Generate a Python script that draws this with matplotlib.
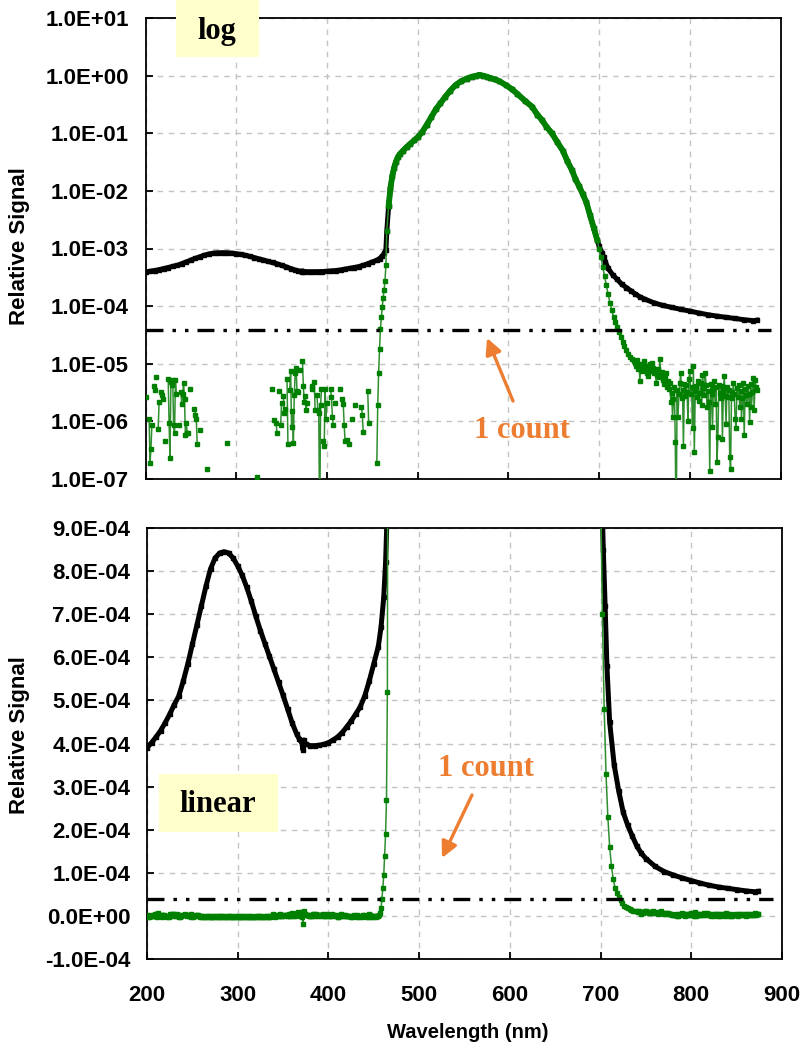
import numpy as np
import matplotlib
matplotlib.use("Agg")
import matplotlib.pyplot as plt
from matplotlib.patches import Rectangle, FancyArrowPatch
from matplotlib.ticker import FixedLocator, NullLocator, FuncFormatter

plt.rcParams['font.family'] = ['Liberation Sans', 'DejaVu Sans']
plt.rcParams['font.weight'] = 'bold'
plt.rcParams['lines.scale_dashes'] = False

# ---------------- data ----------------
# black series (unfiltered), left part, values in 1e-4
black_left_wl = [200, 205, 210, 215, 220, 225, 230, 235, 240, 245, 250, 255, 260, 265, 270, 275,
                 280, 285, 290, 295, 300, 305, 310, 315, 320, 325, 330, 335, 340, 345, 350, 355,
                 360, 365, 368, 371, 372, 373, 375, 380, 385, 390, 395, 400, 405, 410, 415, 420,
                 425, 430, 435, 440, 445, 450, 455, 458, 461, 463, 465]
black_left_val = [3.90, 4.02, 4.15, 4.30, 4.48, 4.68, 4.90, 5.10, 5.45, 5.85, 6.30, 6.75, 7.20, 7.65,
                  8.05, 8.30, 8.42, 8.45, 8.42, 8.30, 8.12, 7.90, 7.62, 7.30, 6.95, 6.62, 6.32, 6.02,
                  5.72, 5.42, 5.12, 4.80, 4.48, 4.22, 4.10, 4.00, 3.85, 4.08, 3.98, 3.95, 3.95, 3.96,
                  3.98, 4.02, 4.08, 4.15, 4.25, 4.38, 4.52, 4.68, 4.85, 5.10, 5.45, 5.85, 6.25, 6.70,
                  7.40, 8.20, 9.50]

# main emission peak, shared by both series (they overlap here)
peak_wl = [466, 468, 470, 472, 474, 476, 478, 480, 484, 488, 492, 496, 500, 505, 510, 515, 520,
           525, 530, 536, 542, 548, 554, 560, 564, 568, 572, 576, 580, 585, 590, 597, 604, 610,
           618, 626, 632, 637, 642, 648, 654, 660, 665, 670, 674, 678, 682, 686, 690, 694, 698]
peak_val = [2.0e-3, 5.5e-3, 1.1e-2, 1.8e-2, 2.5e-2, 3.2e-2, 3.8e-2, 4.3e-2, 5.0e-2, 5.8e-2, 6.6e-2,
            7.5e-2, 8.5e-2, 0.105, 0.14, 0.19, 0.26, 0.33, 0.42, 0.55, 0.69, 0.80, 0.89, 0.96,
            0.99, 1.03, 1.00, 0.96, 0.91, 0.86, 0.80, 0.69, 0.58, 0.48, 0.37, 0.29, 0.21, 0.17,
            0.13, 0.10, 0.07, 0.05, 0.033, 0.023, 0.016, 0.012, 0.0088, 0.0063, 0.0038, 0.0023,
            0.0014]

# black series tail, values in 1e-5
black_tail_wl = [700, 703, 705, 707, 710, 715, 720, 725, 730, 735, 740, 745, 750, 760, 770, 780,
                 790, 800, 810, 820, 830, 840, 850, 860, 870, 874]
black_tail_val = [110, 85, 72, 58, 45, 35, 29, 24, 21, 18.5, 16.2, 14.5, 13.3, 11.5, 10.3, 9.5,
                  8.8, 8.2, 7.6, 7.1, 6.7, 6.4, 6.1, 5.8, 5.6, 5.7]

# green series (filtered): noise floor 200-454 nm, 1 nm step, values in 1e-6
green_low_start = 200
green_low_val = [
    2.6, -1.5, -2.0, -0.8, 1.1, 0.19, 0.33, 0.85, -1.2, 4.1,      # 200-209
    3.5, -2.1, 5.9, -0.6, 0.74, 2.2, -1.8, 3.2, 2.9, 2.4,         # 210-219
    -0.9, 0.46, -2.5, -1.1, -3.0, 5.5, 0.93, 0.23, 4.8, 4.2,      # 220-229
    5.2, 0.87, 0.63, 5.2, 3.0, -1.4, -2.2, 0.85, -0.7, 3.2,       # 230-239
    2.0, 3.0, 4.6, 2.4, 0.59, 0.93, 0.62, 0.62, -1.9, 3.7,        # 240-249
    -0.8, -2.6, -1.3, -0.5, 1.66, 1.3, 1.1, 0.4, -1.7, -0.9,      # 250-259
    0.71, -1.5, -2.4, -0.9, -3.1, -1.8, -0.6, -2.2, 0.15, -1.4,   # 260-269
    -2.8, -0.7, -1.9, -3.3, -1.0, -2.5, -0.8, -1.6, -2.9, -1.2,   # 270-279
    -0.5, -2.0, -3.4, -1.3, -2.6, -0.9, -1.7, -2.3, -3.0, -1.1,   # 280-289
    0.42, -1.8, -2.7, -0.6, -1.5, -3.2, -2.1, -0.8, -1.9, -2.8,   # 290-299
    -1.0, -2.4, -3.5, -1.6, -0.7, -2.2, -1.3, -2.9, -3.1, -0.9,   # 300-309
    -1.8, -2.5, -1.1, -3.0, -2.0, -0.6, -1.4, -2.7, -1.9, -3.3,   # 310-319
    -1.2, -2.3, -0.8, 0.11, -1.7, -2.6, -1.0, -2.1, -3.2, -1.5,   # 320-329
    -0.7, -2.4, -1.3, -2.8, -0.9, -1.6, -2.2, -1.1, -0.5, 3.7,    # 330-339
    -1.0, -1.5, 1.07, -0.8, 0.93, 0.63, -1.2, 3.3, -0.5, 0.85,    # 340-349
    2.1, -0.4, 2.8, 1.4, 1.66, -0.6, 5.5, 0.4, -1.0, 3.5,         # 350-359
    7.4, 0.79, 1.5, 0.42, 2.9, 6.9, 8.5, 3.4, 3.2, -0.8,          # 360-369
    7.9, -2.5, -19.0, 11.2, 4.1, 2.2, 2.8, 1.6, 2.1, -0.6,        # 370-379
    -1.1, -0.4, -0.9, 3.6, 4.1, -1.2, 4.8, 1.56, -0.7, 2.9,       # 380-389
    1.6, 1.4, 0.012, 1.9, 3.6, -0.8, 0.45, 0.38, 3.6, 1.1,        # 390-399
    2.1, -0.5, -1.3, -0.6, 3.6, 2.6, 1.2, 0.85, -0.9, 2.1,        # 400-409
    -1.4, -2.0, -0.8, -0.7, 3.6, -1.1, -0.3, 2.4, 2.0, 0.87,      # 410-419
    0.45, -1.0, 0.48, -0.6, 0.4, -1.5, -2.2, -0.9, 1.1, -0.5,     # 420-429
    -1.3, 1.9, -1.8, -0.7, -2.4, -1.2, -0.6, -1.9, 1.8, 1.3,      # 430-439
    0.65, -1.1, -2.0, -0.8, -1.6, 3.3, 0.93, -1.4, -0.7, -2.1,    # 440-449
    -1.0, -0.5, -1.8, -0.9, -1.2,                                 # 450-454
]

# green rising edge (absolute values)
green_rise_wl = [455, 456, 457, 458, 459, 460, 461, 462, 463, 464, 465]
green_rise_val = [1.9e-7, 1.9e-6, 7.0e-6, 1.8e-5, 4.0e-5, 6.5e-5, 9.5e-5, 1.4e-4, 1.9e-4,
                  2.7e-4, 5.2e-4]

# green falling edge (absolute values)
green_fall_wl = [700, 702, 704, 706, 708, 710, 712, 714, 716, 718, 720, 722, 724, 726, 728, 730,
                 732, 734, 736, 738]
green_fall_val = [1.0e-3, 7.0e-4, 4.8e-4, 3.3e-4, 2.3e-4, 1.6e-4, 1.15e-4, 8.5e-5, 6.5e-5,
                  5.2e-5, 4.4e-5, 3.6e-5, 2.9e-5, 2.4e-5, 2.0e-5, 1.75e-5, 1.5e-5, 1.3e-5,
                  1.2e-5, 1.1e-5]

# green red-side noise floor 740-874 nm, 1 nm step, values in 1e-6
green_high_start = 740
green_high_val = [
    10.5, 9.0, 11.5, 8.0, 9.5, 5.0, 10.0, 7.4, 8.8, 11.0,         # 740-749
    10.4, 8.0, 9.2, 7.0, 6.1, 8.5, 9.8, 7.5, 10.5, 8.5,           # 750-759
    6.8, 8.0, 7.2, 4.6, 6.5, 8.0, 5.8, 12.0, 6.5, 7.2,            # 760-769
    5.2, 5.7, 4.5, 6.2, 6.9, 4.0, 5.0, 3.6, 4.6, 2.2,             # 770-779
    3.1, 1.2, 2.4, 4.0, 0.43, 0.01, 3.5, 1.2, 3.0, 4.6,           # 780-789
    6.9, 2.5, 3.5, 0.38, 4.4, 2.8, 4.3, 3.2, 1.0, 5.5,            # 790-799
    7.4, 3.0, 4.0, 0.76, 9.0, 0.29, 3.3, 4.1, 2.6, 5.0,           # 800-809
    2.3, 3.1, 4.7, 1.9, 6.5, 3.8, 2.9, 6.9, 4.2, 1.8,             # 810-819
    3.4, 2.2, 0.14, 4.5, 3.0, 0.8, 3.6, 5.0, 2.0, 3.9,            # 820-829
    0.2, 0.54, 4.3, 3.1, 2.5, 4.1, 0.5, 3.4, 6.1, 2.8,            # 830-839
    0.9, 4.0, 2.7, 3.5, 0.24, 0.15, 3.2, 2.5, 4.6, 3.0,           # 840-849
    1.1, 0.76, 3.8, 2.7, 4.2, 1.8, 3.3, 1.1, 2.5, 4.6,            # 850-859
    0.57, 3.7, 2.9, 2.0, 4.1, 3.0, 0.98, 4.4, 1.8, 3.2,           # 860-869
    5.7, 1.6, 5.3, 4.0, 3.5,                                      # 870-874
]

one_count = 3.9e-5
x_ticks = [200, 300, 400, 500, 600, 700, 800, 900]
log_ticks = [1e-7, 1e-6, 1e-5, 1e-4, 1e-3, 1e-2, 1e-1, 1e0, 1e1]
lin_ticks = [-1e-4, 0, 1e-4, 2e-4, 3e-4, 4e-4, 5e-4, 6e-4, 7e-4, 8e-4, 9e-4]

# ---------------- assemble series ----------------
black_wl = np.array(black_left_wl + peak_wl + black_tail_wl, dtype=float)
black_val = np.concatenate([np.array(black_left_val) * 1e-4, np.array(peak_val),
                            np.array(black_tail_val) * 1e-5])

low_wl = green_low_start + np.arange(len(green_low_val))
high_wl = green_high_start + np.arange(len(green_high_val))
green_wl = np.concatenate([low_wl, green_rise_wl, peak_wl, green_fall_wl, high_wl]).astype(float)
green_val = np.concatenate([np.array(green_low_val) * 1e-6, green_rise_val, peak_val,
                            green_fall_val, np.array(green_high_val) * 1e-6])

# ---------------- figure ----------------
W, H = 802, 1047
fig = plt.figure(figsize=(W / 100, H / 100), dpi=100)

def fx(px):
    return px / W

def fy(py):
    return 1 - py / H

ax1 = fig.add_axes([fx(145.5), fy(479), (780.5 - 145.5) / W, (479 - 18) / H])
ax2 = fig.add_axes([fx(147), fy(959), (782 - 147) / W, (959 - 528) / H])

GREEN = '#008000'
GREEN_LINE = '#2f8f2f'
ORANGE = '#ED7D31'
GRID = '#c4c4c4'
dashdot = (0, (12.2, 6.5, 2.5, 6.5, 2.5, 6.5))

for ax, is_log in [(ax1, True), (ax2, False)]:
    if is_log:
        ax.set_yscale('log', nonpositive='mask')
    ax.set_axisbelow(True)
    ax.grid(True, which='major', color=GRID, linestyle=(0, (4, 4)), linewidth=1.0)
    # black (unfiltered)
    ax.plot(black_wl, black_val, color='black', lw=3.6, marker='s', ms=2.8,
            solid_joinstyle='round', zorder=3)
    # green (filtered)
    ax.plot(green_wl, green_val, color=GREEN_LINE, lw=1.1, marker='s', ms=3.4,
            mfc=GREEN, mec=GREEN, zorder=4)
    ax.plot(peak_wl[1:], peak_val[1:], color=GREEN, lw=4.2, solid_joinstyle='round', zorder=5)
    # one count level
    ax.plot([200, 890], [one_count, one_count], color='black', lw=2.4,
            linestyle=dashdot, zorder=6)
    ax.set_xlim(200, 900)
    ax.xaxis.set_major_locator(FixedLocator(x_ticks))
    ax.xaxis.set_minor_locator(NullLocator())
    ax.yaxis.set_minor_locator(NullLocator())
    ax.tick_params(axis='both', direction='in', length=5, width=1.3, labelsize=16)
    ax.tick_params(axis='y', pad=12)
    ax.tick_params(axis='x', pad=19)
    for sp in ax.spines.values():
        sp.set_linewidth(1.3)
        sp.set_color('black')

ax1.set_ylim(1e-7, 1e1)
ax1.yaxis.set_major_locator(FixedLocator(log_ticks))
ax1.yaxis.set_major_formatter(FuncFormatter(lambda v, p: '{:.1E}'.format(v)))
ax1.yaxis.set_minor_locator(NullLocator())
ax1.tick_params(axis='x', labelbottom=False)

ax2.set_ylim(-1e-4, 9e-4)
ax2.yaxis.set_major_locator(FixedLocator(lin_ticks))
ax2.yaxis.set_major_formatter(FuncFormatter(lambda v, p: '{:.1E}'.format(v)))

for t in ax1.get_yticklabels() + ax2.get_yticklabels() + ax2.get_xticklabels():
    t.set_fontweight('bold')

# axis titles
fig.text(fx(20), fy(246), 'Relative Signal', rotation=90, ha='center', va='center',
         fontsize=16, fontweight='bold')
fig.text(fx(20), fy(735), 'Relative Signal', rotation=90, ha='center', va='center',
         fontsize=16, fontweight='bold')
fig.text(fx(468), fy(1032), 'Wavelength (nm)', ha='center', va='center',
         fontsize=14.5, fontweight='bold')

# label boxes
serif = ['Liberation Serif', 'DejaVu Serif']
fig.add_artist(Rectangle((fx(176), fy(57)), (259 - 176) / W, 57 / H, transform=fig.transFigure,
                         facecolor='#FFFFCC', edgecolor='none', zorder=10))
fig.text(fx(217), fy(31), 'log', ha='center', va='center', fontsize=22, fontweight='bold',
         family=serif, zorder=11)
fig.add_artist(Rectangle((fx(159), fy(832)), (278 - 159) / W, (832 - 774) / H,
                         transform=fig.transFigure, facecolor='#FFFFCC', edgecolor='none',
                         zorder=10))
fig.text(fx(218), fy(804), 'linear', ha='center', va='center', fontsize=22, fontweight='bold',
         family=serif, zorder=11)

# "1 count" annotations
fig.text(fx(522), fy(430), '1 count', ha='center', va='center', fontsize=22, fontweight='bold',
         family=serif, color=ORANGE, zorder=11)
fig.text(fx(486), fy(768), '1 count', ha='center', va='center', fontsize=22, fontweight='bold',
         family=serif, color=ORANGE, zorder=11)
arrow_kw = dict(arrowstyle='-|>', color=ORANGE, lw=2.4, mutation_scale=24,
                shrinkA=0, shrinkB=0)
fig.add_artist(FancyArrowPatch((fx(513), fy(401)), (fx(487), fy(338)),
                               transform=fig.transFigure, zorder=11, **arrow_kw))
fig.add_artist(FancyArrowPatch((fx(472), fy(795)), (fx(442), fy(858)),
                               transform=fig.transFigure, zorder=11, **arrow_kw))

fig.savefig('out.png', dpi=100)
